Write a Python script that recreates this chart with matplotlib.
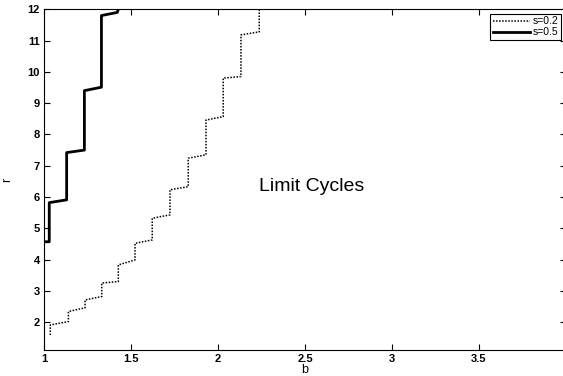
import matplotlib
matplotlib.use("Agg")
import matplotlib.pyplot as plt

plt.rcParams["font.family"] = ["Liberation Sans", "DejaVu Sans"]

# s = 0.2 staircase: (b, r) vertices
b_s02 = [1.036, 1.036, 1.140, 1.140, 1.236, 1.236, 1.332, 1.332, 1.427, 1.427,
         1.523, 1.523, 1.622, 1.622, 1.724, 1.724, 1.829, 1.829, 1.931, 1.931,
         2.030, 2.030, 2.132, 2.132, 2.237, 2.237]
r_s02 = [1.59, 1.91, 2.02, 2.34, 2.46, 2.71, 2.82, 3.25, 3.30, 3.83,
         3.99, 4.52, 4.63, 5.32, 5.43, 6.23, 6.33, 7.24, 7.35, 8.46,
         8.57, 9.80, 9.85, 11.18, 11.28, 12.0]

# s = 0.5 staircase
b_s05 = [1.000, 1.030, 1.030, 1.130, 1.130, 1.232, 1.232, 1.330, 1.330, 1.421, 1.427]
r_s05 = [4.57, 4.57, 5.82, 5.91, 7.42, 7.50, 9.40, 9.51, 11.80, 11.90, 12.0]

x_ticks = [1, 1.5, 2, 2.5, 3, 3.5]
x_ticklabels = ["1", "1.5", "2", "2.5", "3", "3.5"]
y_ticks = [2, 3, 4, 5, 6, 7, 8, 9, 10, 11, 12]

fig = plt.figure(figsize=(5.63, 3.76), dpi=100)
ax = fig.add_axes([0.0782, 0.0691, 0.927, 0.9062])

ax.plot(b_s02, r_s02, color="black", linestyle=(0, (1, 1)), linewidth=1.1, label="s=0.2")
ax.plot(b_s05, r_s05, color="black", linestyle="-", linewidth=2.0, label="s=0.5")

ax.set_xlim(1, 4)
ax.set_ylim(1.11, 12)
ax.set_xticks(x_ticks)
ax.set_xticklabels(x_ticklabels)
ax.set_yticks(y_ticks)
ax.tick_params(direction="in", top=True, right=True, length=4, width=0.8,
               labelsize=8, pad=3)
for lab in ax.get_xticklabels() + ax.get_yticklabels():
    lab.set_fontweight("bold")

ax.set_xlabel("b", fontsize=9, labelpad=0)
ax.set_ylabel("r", fontsize=9, labelpad=10)

ax.text(2.236, 6.35, "Limit Cycles", fontsize=14, ha="left", va="center")

leg = ax.legend(loc="upper right", bbox_to_anchor=(0.990, 0.987), fontsize=7.5,
                handlelength=3.6, handletextpad=0.2, borderpad=0.25,
                labelspacing=0.1, borderaxespad=0, fancybox=False, framealpha=1)
leg.get_frame().set_edgecolor("black")
leg.get_frame().set_linewidth(0.8)

fig.savefig("out.png", dpi=100)
